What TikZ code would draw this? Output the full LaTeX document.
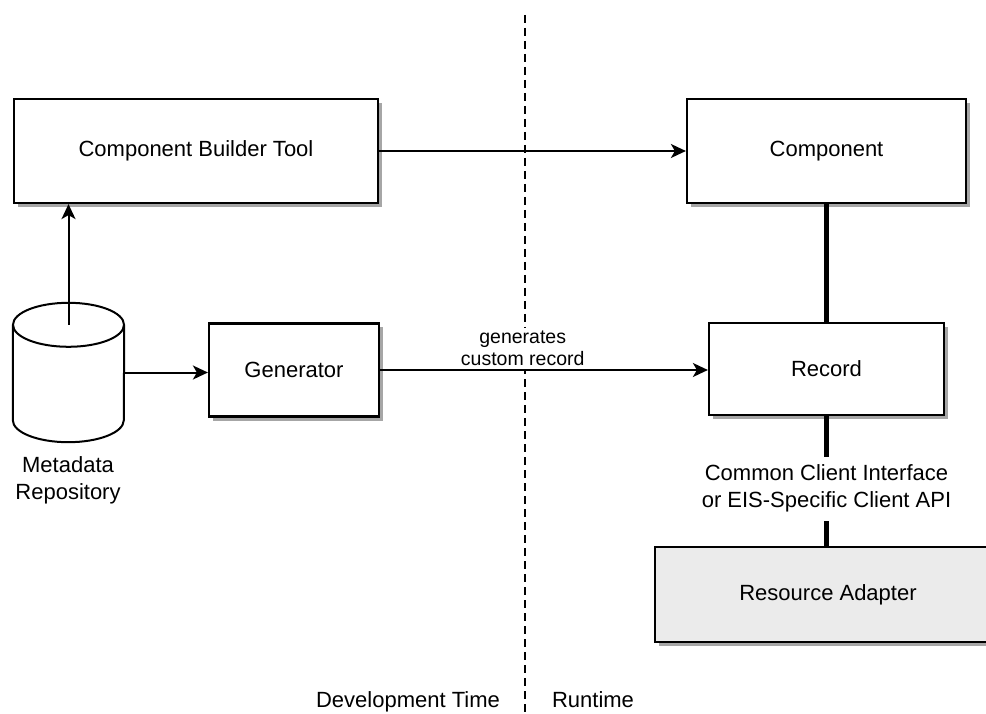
\documentclass[tikz,border=0pt]{standalone}
\usepackage{fontspec}
\setmainfont{Liberation Sans}
\usetikzlibrary{arrows.meta,shadows}

\begin{document}
\begin{tikzpicture}[x=1pt, y=-1pt, >={Stealth[length=15pt,width=14pt,inset=4pt]},
  font=\fontsize{22}{27}\selectfont,
  box/.style={draw, line width=2.2pt, fill=white,
    drop shadow={shadow xshift=4pt, shadow yshift=-4pt, fill=black!35, opacity=1}},
  link/.style={line width=2pt},
  bond/.style={line width=4.5pt}]
  \useasboundingbox (0,0) rectangle (986,714);
  \clip (0,0) rectangle (986,714);

  % Development time / runtime border
  \coordinate (split top) at (525,15);
  \coordinate (split bot) at (525,714);
  \draw[line width=1.8pt, dash pattern=on 8pt off 5pt] (split top) -- (split bot);

  % Development time
  \node[box, minimum width=364pt, minimum height=104pt] (cbt) at (196,151) {Component Builder Tool};
  \node[box, minimum width=170pt, minimum height=93pt] (gen) at (294,370) {Generator};

  % Repository drum
  \node[minimum width=111pt, minimum height=139pt, inner sep=0pt] (repo) at (68.5,372.5) {};
  \draw[link] ([yshift=-22pt]repo.north west) -- ([yshift=22pt]repo.south west)
    arc[start angle=180, end angle=360, x radius=55.5pt, y radius=22pt]
    -- ([yshift=-22pt]repo.north east);
  \draw[link] ([yshift=-22pt]repo.north) ellipse [x radius=55.5pt, y radius=22pt];
  \coordinate (repo top) at ([yshift=-22pt]repo.north);
  \node[align=center] (repo label) at (68,480) {Metadata\\Repository};

  \draw[link, ->] (repo top) -- (cbt.south -| repo top);
  \draw[link, ->] (repo.east) -- (repo.east -| gen.west);

  % Runtime
  \node[box, minimum width=279pt, minimum height=104pt] (comp) at (826.5,151) {Component};
  \node[box, minimum width=235pt, minimum height=92pt] (rec) at (826.5,369) {Record};
  \node[box, fill=black!8, minimum width=346pt, minimum height=95pt] (ra) at (828,594.5) {Resource Adapter};

  \draw[link, ->] (cbt.east) -- (cbt.east -| comp.west);
  \draw[link, ->] (gen.east) -- node[pos=0.435, above, fill=white, align=center,
    font=\fontsize{19.5}{21.5}\selectfont] {generates\\custom record} (gen.east -| rec.west);
  \draw[bond] (comp.south) -- (rec.north);
  \draw[bond] (rec.south) -- node[pos=0.56, fill=white, inner sep=8pt, align=center]
    {Common Client Interface\\or EIS-Specific Client API} (rec.south |- ra.north);

  % Phase labels
  \node[anchor=base] (dev) at (408,707) {Development Time};
  \node[anchor=base] (run) at (593,707) {Runtime};
\end{tikzpicture}
\end{document}
